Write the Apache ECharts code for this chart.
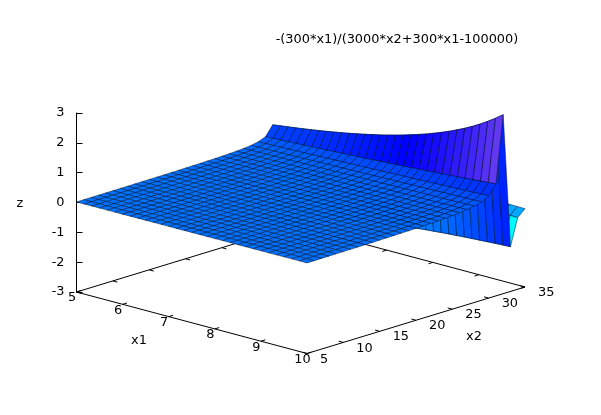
<!DOCTYPE html>
<html>
<head>
<meta charset="utf-8">
<style>html,body{margin:0;padding:0;background:#fff}#c{width:601px;height:415px}</style>
<script src="https://cdn.jsdelivr.net/npm/echarts@6/dist/echarts.min.js"></script>
</head>
<body>
<div id="c"></div>
<script>
const chartTitle = "-(300*x1)/(3000*x2+300*x1-100000)";
const x1Ticks = [5, 6, 7, 8, 9, 10];
const x2Ticks = [5, 10, 15, 20, 25, 30, 35];
const x1Values = [5,5.167,5.333,5.5,5.667,5.833,6,6.167,6.333,6.5,6.667,6.833,7,7.167,7.333,7.5,7.667,7.833,8,8.167,8.333,8.5,8.667,8.833,9,9.167,9.333,9.5,9.667,9.833,10];
const x2Values = [5,6,7,8,9,10,11,12,13,14,15,16,17,18,19,20,21,22,23,24,25,26,27,28,29,30,31,32,33,34,35];
const z05 = [.018,.019,.019,.020,.020,.021,.022,.022,.023,.023,.024,.025,.025,.026,.027,.027,.028,.028,.029,.030,.030,.031,.032,.032,.033,.033,.034,.035,.035,.036,.037];
const z06 = [.019,.019,.020,.021,.021,.022,.022,.023,.024,.024,.025,.026,.026,.027,.028,.028,.029,.030,.030,.031,.032,.032,.033,.033,.034,.035,.035,.036,.037,.037,.038];
const z07 = [.019,.020,.021,.021,.022,.023,.023,.024,.025,.025,.026,.027,.027,.028,.029,.029,.030,.031,.032,.032,.033,.034,.034,.035,.036,.036,.037,.038,.038,.039,.039];
const z08 = [.020,.021,.022,.022,.023,.024,.024,.025,.026,.026,.027,.028,.028,.029,.030,.031,.031,.032,.033,.033,.034,.035,.036,.036,.037,.038,.038,.039,.040,.040,.041];
const z09 = [.021,.022,.022,.023,.024,.025,.025,.026,.027,.028,.028,.029,.030,.030,.031,.032,.033,.033,.034,.035,.036,.036,.037,.038,.038,.039,.040,.041,.041,.042,.043];
const z10 = [.022,.023,.023,.024,.025,.026,.026,.027,.028,.029,.029,.030,.031,.032,.032,.033,.034,.035,.036,.036,.037,.038,.039,.039,.040,.041,.042,.043,.043,.044,.045];
const z11 = [.023,.024,.025,.025,.026,.027,.028,.028,.029,.030,.031,.032,.032,.033,.034,.035,.036,.036,.037,.038,.039,.040,.040,.041,.042,.043,.044,.045,.045,.046,.047];
const z12 = [.024,.025,.026,.027,.027,.028,.029,.030,.031,.032,.032,.033,.034,.035,.036,.036,.037,.038,.039,.040,.041,.042,.042,.043,.044,.045,.046,.047,.048,.048,.049];
const z13 = [.025,.026,.027,.028,.029,.030,.030,.031,.032,.033,.034,.035,.036,.037,.037,.038,.039,.040,.041,.042,.043,.044,.045,.045,.046,.047,.048,.049,.050,.051,.052];
const z14 = [.027,.028,.028,.029,.030,.031,.032,.033,.034,.035,.036,.037,.038,.039,.039,.040,.041,.042,.043,.044,.045,.046,.047,.048,.049,.050,.051,.052,.053,.054,.055];
const z15 = [.028,.029,.030,.031,.032,.033,.034,.035,.036,.037,.038,.039,.040,.041,.042,.043,.044,.045,.046,.047,.048,.049,.050,.051,.052,.053,.054,.055,.056,.057,.058];
const z16 = [.030,.031,.032,.033,.034,.035,.036,.037,.038,.039,.040,.041,.042,.043,.044,.045,.046,.047,.048,.050,.051,.052,.053,.054,.055,.056,.057,.058,.059,.060,.061];
const z17 = [.032,.033,.034,.035,.036,.037,.038,.039,.040,.042,.043,.044,.045,.046,.047,.048,.049,.050,.052,.053,.054,.055,.056,.057,.058,.060,.061,.062,.063,.064,.065];
const z18 = [.034,.035,.036,.037,.038,.040,.041,.042,.043,.044,.046,.047,.048,.049,.050,.051,.053,.054,.055,.056,.058,.059,.060,.061,.062,.064,.065,.066,.067,.069,.070];
const z19 = [.036,.037,.039,.040,.041,.043,.044,.045,.046,.048,.049,.050,.051,.053,.054,.055,.057,.058,.059,.061,.062,.063,.064,.066,.067,.068,.070,.071,.072,.074,.075];
const z20 = [.039,.040,.042,.043,.045,.046,.047,.049,.050,.051,.053,.054,.056,.057,.058,.060,.061,.063,.064,.065,.067,.068,.070,.071,.073,.074,.075,.077,.078,.080,.081];
const z21 = [.042,.044,.045,.047,.048,.050,.051,.053,.054,.056,.057,.059,.060,.062,.063,.065,.066,.068,.069,.071,.073,.074,.076,.077,.079,.080,.082,.084,.085,.087,.088];
const z22 = [.046,.048,.050,.051,.053,.054,.056,.058,.059,.061,.063,.064,.066,.068,.069,.071,.073,.074,.076,.078,.080,.081,.083,.085,.087,.088,.090,.092,.093,.095,.097];
const z23 = [.051,.053,.055,.056,.058,.060,.062,.064,.066,.067,.069,.071,.073,.075,.077,.078,.080,.082,.084,.086,.088,.090,.092,.094,.096,.098,.100,.101,.103,.105,.107];
const z24 = [.057,.059,.061,.063,.065,.067,.069,.071,.073,.075,.077,.079,.081,.083,.085,.087,.090,.092,.094,.096,.098,.100,.103,.105,.107,.109,.111,.113,.116,.118,.120];
const z25 = [.064,.066,.069,.071,.073,.076,.078,.080,.083,.085,.087,.090,.092,.094,.097,.099,.101,.104,.106,.109,.111,.114,.116,.119,.121,.124,.126,.129,.131,.134,.136];
const z26 = [.073,.076,.079,.081,.084,.087,.089,.092,.095,.097,.100,.103,.106,.108,.111,.114,.117,.120,.123,.125,.128,.131,.134,.137,.140,.143,.146,.149,.152,.155,.158];
const z27 = [.086,.089,.092,.095,.098,.102,.105,.108,.111,.115,.118,.121,.124,.128,.131,.134,.138,.141,.145,.148,.152,.155,.159,.162,.166,.169,.173,.177,.180,.184,.188];
const z28 = [.103,.107,.111,.115,.119,.123,.127,.131,.135,.139,.143,.147,.151,.155,.160,.164,.168,.172,.176,.181,.185,.190,.194,.199,.203,.208,.212,.217,.221,.226,.231];
const z29 = [.130,.135,.140,.146,.151,.156,.161,.166,.171,.177,.182,.187,.193,.198,.204,.210,.215,.221,.226,.232,.238,.244,.250,.256,.262,.269,.275,.281,.287,.294,.300];
const z30 = [.176,.183,.190,.198,.205,.212,.220,.227,.235,.242,.250,.258,.266,.274,.282,.290,.299,.307,.316,.325,.333,.342,.351,.361,.370,.379,.389,.399,.409,.418,.429];
const z31 = [.273,.285,.296,.309,.321,.333,.346,.359,.373,.386,.400,.414,.429,.443,.458,.474,.490,.505,.522,.539,.556,.573,.591,.609,.628,.647,.667,.687,.708,.728,.750];
const z32 = [.600,.633,.667,.702,.740,.778,.819,.861,.905,.952,1.000,1.051,1.106,1.163,1.222,1.286,1.354,1.424,1.501,1.582,1.667,1.760,1.859,1.963,2.079,2.202,2.333,2.480,2.639,2.809,3.000];
const z33 = [-3.000,-2.817,-2.667,-2.538,-2.428,-2.333,-2.250,-2.176,-2.111,-2.052,-2.000,-1.952,-1.909,-1.869,-1.833,-1.800,-1.769,-1.741,-1.714,-1.689,-1.667,-1.645,-1.625,-1.606,-1.588,-1.571,-1.556,-1.540,-1.526,-1.513,-1.500];
const z34 = [-.429,-.437,-.444,-.452,-.460,-.467,-.474,-.481,-.487,-.494,-.500,-.506,-.512,-.518,-.524,-.529,-.535,-.540,-.545,-.551,-.556,-.560,-.565,-.570,-.575,-.579,-.583,-.588,-.592,-.596,-.600];
const z35 = [-.231,-.237,-.242,-.248,-.254,-.259,-.265,-.270,-.275,-.281,-.286,-.291,-.296,-.301,-.306,-.310,-.315,-.320,-.324,-.329,-.333,-.338,-.342,-.346,-.351,-.355,-.359,-.363,-.367,-.371,-.375];
const zRows = [z05,z06,z07,z08,z09,z10,z11,z12,z13,z14,z15,z16,z17,z18,z19,z20,z21,z22,z23,z24,z25,z26,z27,z28,z29,z30,z31,z32,z33,z34,z35];

// view of the gnuplot box on the page
const zMin = -3, zMax = 3;
const view = {ox: 76.5, oy: 292, x1dx: 46.1, x1dy: 12.3, x2dx: 218/30, x2dy: -66.5/30, zdy: -179/6};
const FONT = "DejaVu Sans";
const FS = 12.9;
function project(x1, x2, z) {
  return [
    view.ox + (x1 - 5) * view.x1dx + (x2 - 5) * view.x2dx,
    view.oy + (x1 - 5) * view.x1dy + (x2 - 5) * view.x2dy + (z - zMin) * view.zdy
  ];
}
const palette = [[-1.1,0,255,255],[-0.5,0,170,255],[0.03,0,114,255],[1,0,0,255],[1.9,108,62,238],[3,170,100,220]];
function colorOf(z) {
  if (z <= palette[0][0]) return `rgb(${palette[0][1]},${palette[0][2]},${palette[0][3]})`;
  for (let k = 1; k < palette.length; k++) {
    if (z <= palette[k][0]) {
      const a = palette[k-1], b = palette[k], t = (z - a[0]) / (b[0] - a[0]);
      return `rgb(${a[1]+(b[1]-a[1])*t},${a[2]+(b[2]-a[2])*t},${a[3]+(b[3]-a[3])*t})`;
    }
  }
  const l = palette[palette.length-1];
  return `rgb(${l[1]},${l[2]},${l[3]})`;
}

// far cells first, near cells last
const cells = [];
for (let j = x2Values.length - 2; j >= 0; j--) {
  for (let i = 0; i < x1Values.length - 1; i++) cells.push([i, j]);
}
const x1a = x1Ticks[0], x1b = x1Ticks[x1Ticks.length-1], x2a = x2Ticks[0], x2b = x2Ticks[x2Ticks.length-1];
const frame = [[x1a,x2a,x1b,x2a],[x1b,x2a,x1b,x2b],[x1b,x2b,x1a,x2b],[x1a,x2b,x1a,x2a]];
x1Ticks.forEach(v => { frame.push([v,x2a,v,x2a+0.6]); frame.push([v,x2b,v,x2b-0.6]); });
x2Ticks.forEach(v => { frame.push([x1b,v,x1b-0.1,v]); frame.push([x1a,v,x1a+0.1,v]); });

const chart = echarts.init(document.getElementById('c'), null, {renderer: 'canvas'});
chart.setOption({
  animation: false,
  backgroundColor: '#fff',
  title: {text: chartTitle, left: 397, top: 33, textAlign: 'center', padding: 0,
    textStyle: {fontFamily: FONT, fontSize: FS, fontWeight: 'normal', color: '#000'}},
  grid: [
    {left: 0, top: 0, width: 601, height: 415, show: false},
    {left: view.ox, top: 113, width: 10, height: 179, show: false}
  ],
  xAxis: [
    {gridIndex: 0, type: 'value', min: 0, max: 601, show: false},
    {gridIndex: 1, type: 'value', min: 0, max: 1, show: false}
  ],
  yAxis: [
    {gridIndex: 0, type: 'value', min: 0, max: 415, inverse: true, show: false},
    {gridIndex: 1, type: 'value', min: zMin, max: zMax, interval: 1, position: 'left',
      axisLine: {show: true, onZero: false, lineStyle: {color: '#000', width: 1}},
      axisTick: {show: true, inside: true, length: 6, lineStyle: {color: '#000', width: 1}},
      axisLabel: {fontFamily: FONT, fontSize: FS, color: '#000', margin: 12, padding: [4, 0, 0, 0]},
      splitLine: {show: false}}
  ],
  series: [
    {type: 'custom', xAxisIndex: 0, yAxisIndex: 0, silent: true, z: 1, clip: false,
      data: frame,
      renderItem(p, api) {
        const a = api.coord(project(api.value(0), api.value(1), zMin));
        const b = api.coord(project(api.value(2), api.value(3), zMin));
        return {type: 'line', shape: {x1: a[0], y1: a[1], x2: b[0], y2: b[1]},
          style: {stroke: '#000', lineWidth: 1, fill: null}};
      }},
    {type: 'custom', xAxisIndex: 0, yAxisIndex: 0, silent: true, z: 2, clip: false, progressive: 0,
      data: cells,
      renderItem(p, api) {
        const i = api.value(0), j = api.value(1);
        const c = [[i,j],[i+1,j],[i+1,j+1],[i,j+1]];
        const zs = c.map(q => zRows[q[1]][q[0]]);
        const pts = c.map((q, k) => api.coord(project(x1Values[q[0]], x2Values[q[1]], zs[k])));
        const mean = (zs[0]+zs[1]+zs[2]+zs[3]) / 4;
        return {type: 'polygon', shape: {points: pts},
          style: {fill: colorOf(mean), stroke: '#001030', lineWidth: 0.5}};
      }},
    {type: 'custom', xAxisIndex: 0, yAxisIndex: 0, silent: true, z: 3, clip: false,
      data: x1Ticks,
      renderItem(p, api) {
        const v = api.value(0), q = api.coord(project(v, x2a, zMin));
        return {type: 'text', style: {x: q[0] - 4.5, y: q[1] + 6, text: String(v), align: 'center', verticalAlign: 'middle',
          fontFamily: FONT, fontSize: FS, fill: '#000'}};
      }},
    {type: 'custom', xAxisIndex: 0, yAxisIndex: 0, silent: true, z: 3, clip: false,
      data: x2Ticks,
      renderItem(p, api) {
        const v = api.value(0), q = api.coord(project(x1b, v, zMin));
        return {type: 'text', style: {x: q[0] + 13, y: q[1] + 5.8, text: String(v), align: 'left', verticalAlign: 'middle',
          fontFamily: FONT, fontSize: FS, fill: '#000'}};
      }}
  ],
  graphic: [
    {type: 'text', x: 139, y: 340.5, style: {text: 'x1', align: 'center', verticalAlign: 'middle', fontFamily: FONT, fontSize: FS, fill: '#000'}},
    {type: 'text', x: 474, y: 337, style: {text: 'x2', align: 'center', verticalAlign: 'middle', fontFamily: FONT, fontSize: FS, fill: '#000'}},
    {type: 'text', x: 20, y: 203.5, style: {text: 'z', align: 'center', verticalAlign: 'middle', fontFamily: FONT, fontSize: FS, fill: '#000'}}
  ]
});
</script>
</body>
</html>
